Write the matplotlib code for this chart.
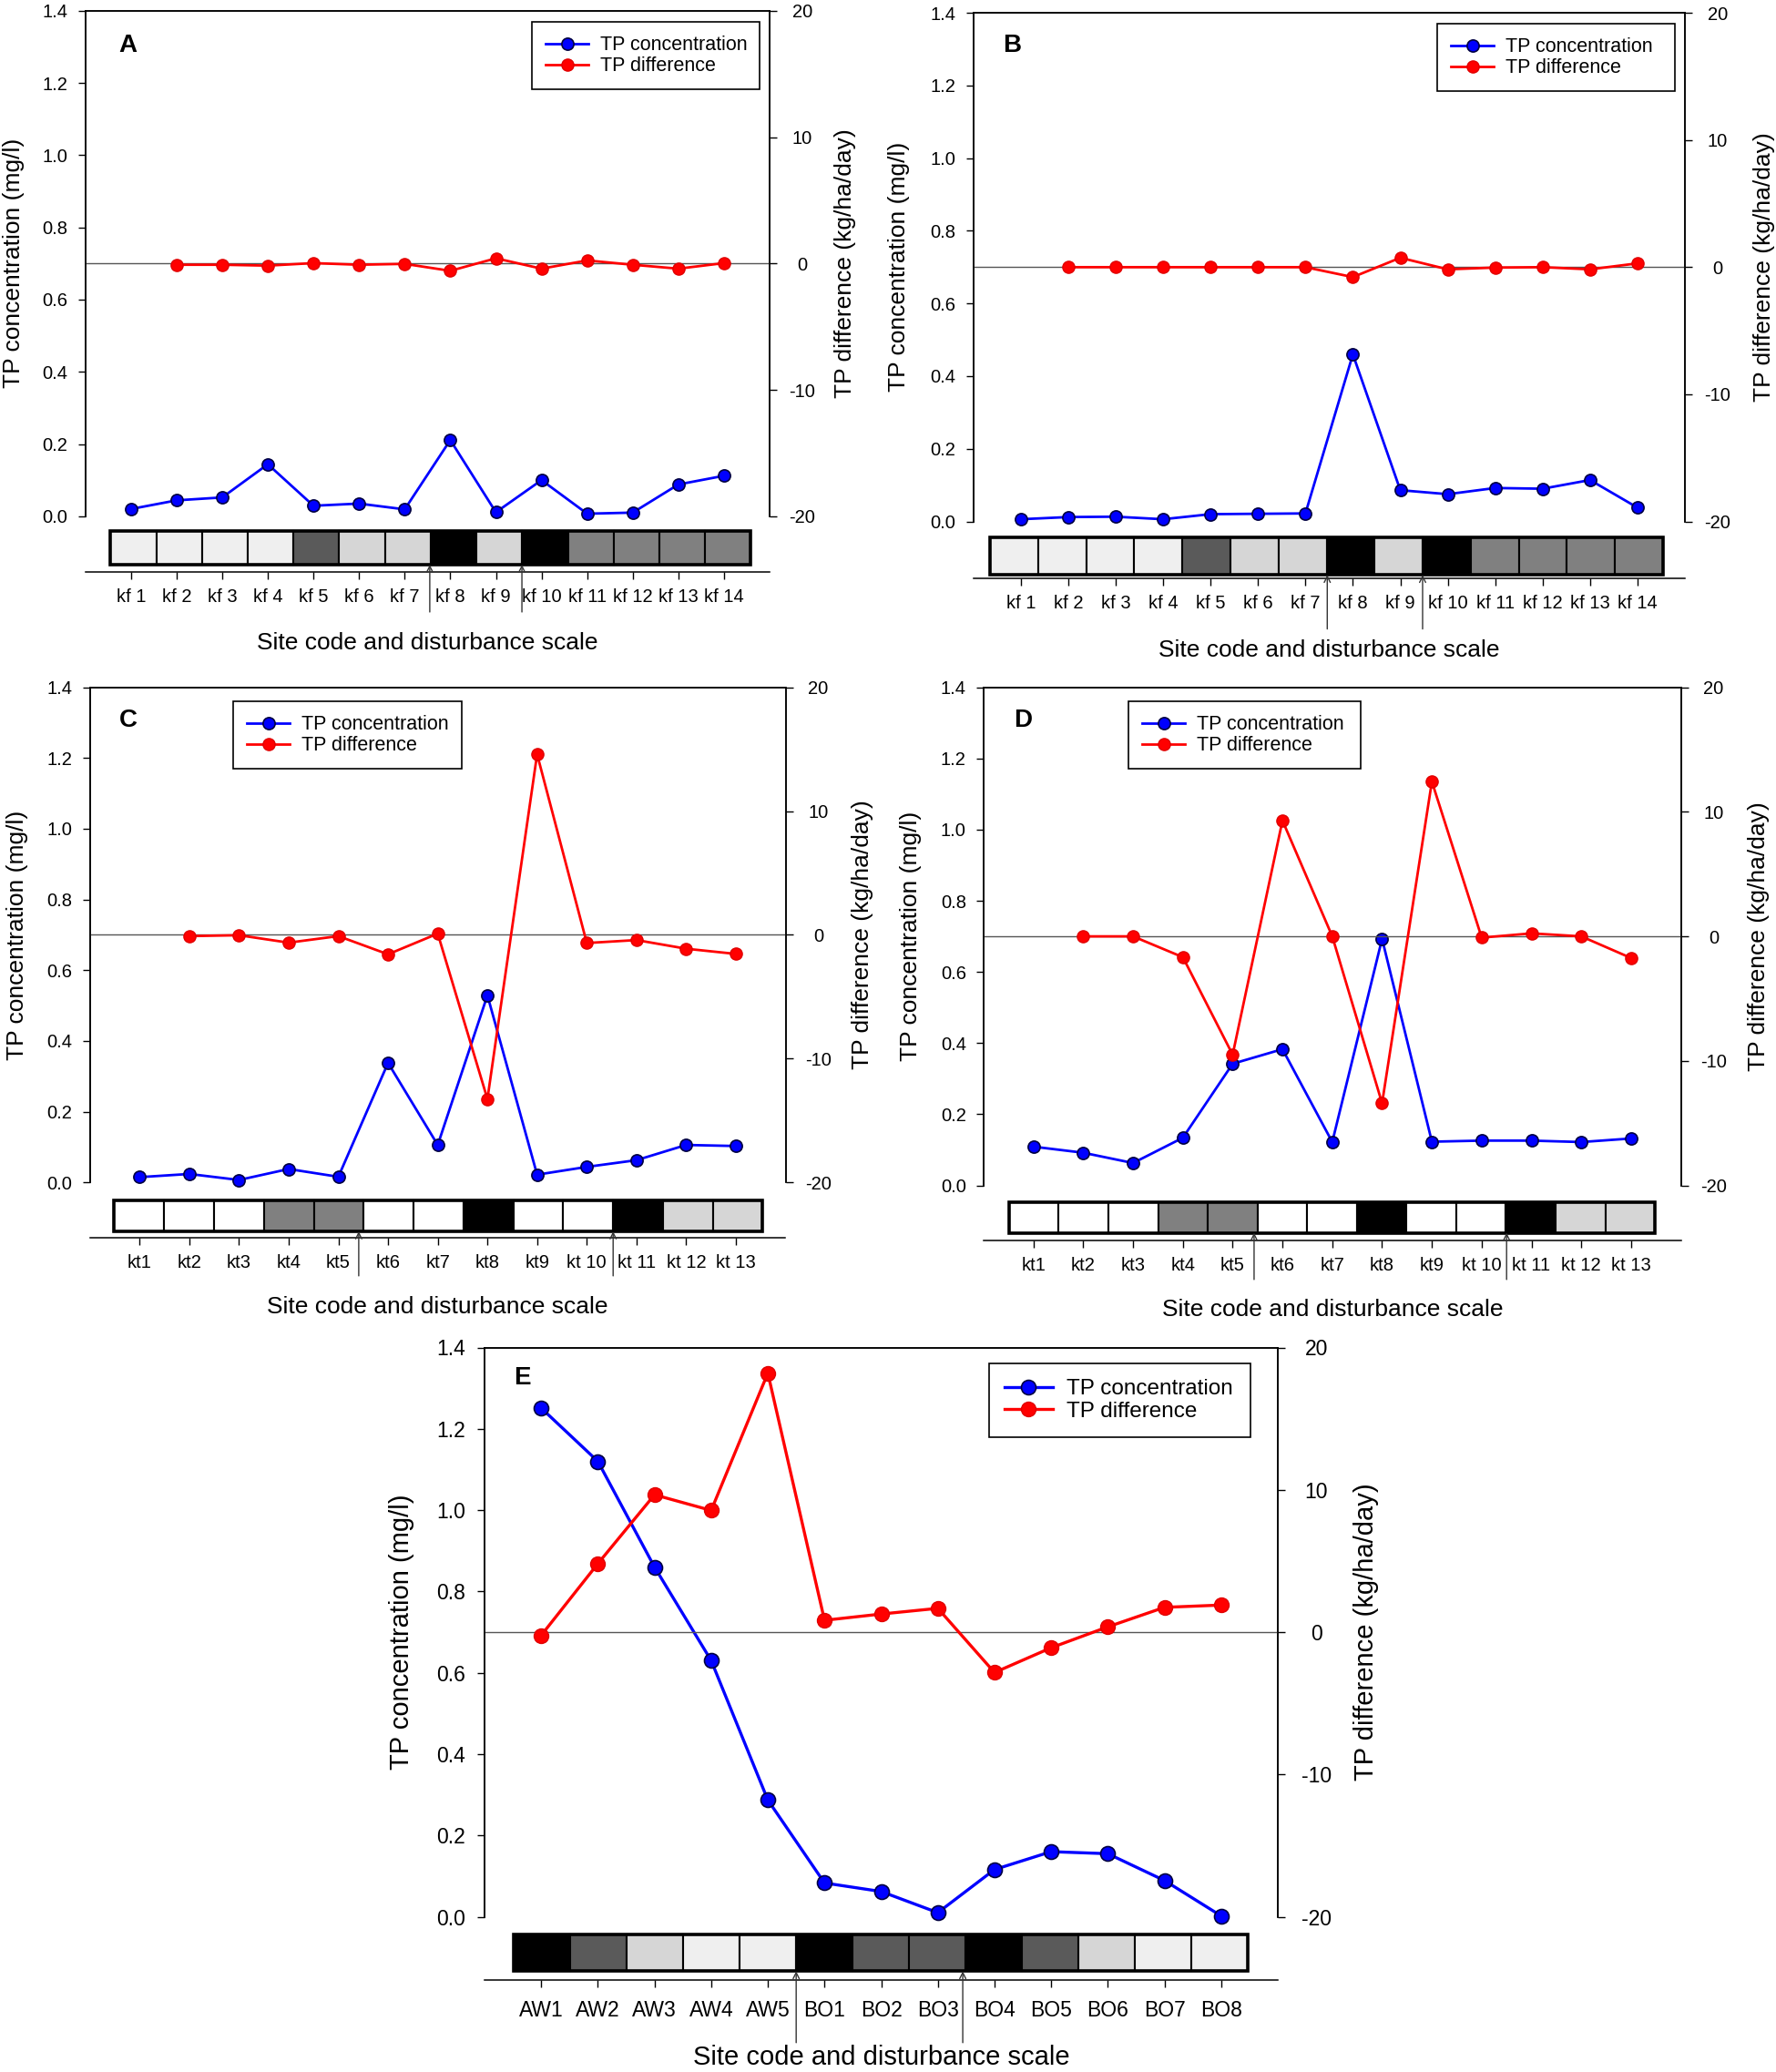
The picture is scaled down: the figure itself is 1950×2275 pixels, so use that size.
import numpy as np
import matplotlib.pyplot as plt
from matplotlib.patches import Rectangle
from matplotlib.lines import Line2D

plt.rcParams['font.family'] = ['Liberation Sans', 'DejaVu Sans']

W, H = 1950, 2275
nan = np.nan

# ---- data ----
sites_kf = ['kf 1', 'kf 2', 'kf 3', 'kf 4', 'kf 5', 'kf 6', 'kf 7',
            'kf 8', 'kf 9', 'kf 10', 'kf 11', 'kf 12', 'kf 13', 'kf 14']
sites_kt = ['kt1', 'kt2', 'kt3', 'kt4', 'kt5', 'kt6', 'kt7',
            'kt8', 'kt9', 'kt 10', 'kt 11', 'kt 12', 'kt 13']
sites_e = ['AW1', 'AW2', 'AW3', 'AW4', 'AW5', 'BO1', 'BO2',
           'BO3', 'BO4', 'BO5', 'BO6', 'BO7', 'BO8']

conc_a = [0.02, 0.044, 0.052, 0.144, 0.029, 0.035, 0.019,
          0.211, 0.011, 0.10, 0.007, 0.01, 0.088, 0.112]
diff_a = [nan, -0.1, -0.1, -0.17, 0.03, -0.1, -0.03,
          -0.58, 0.41, -0.41, 0.24, -0.1, -0.41, 0.03]

conc_b = [0.006, 0.012, 0.013, 0.006, 0.02, 0.021, 0.022,
          0.46, 0.086, 0.075, 0.092, 0.09, 0.114, 0.038]
diff_b = [nan, 0.0, 0.0, 0.0, 0.0, 0.0, 0.0,
          -0.78, 0.74, -0.17, -0.03, 0.0, -0.17, 0.3]

conc_c = [0.015, 0.024, 0.007, 0.038, 0.016, 0.338, 0.106,
          0.529, 0.022, 0.044, 0.063, 0.106, 0.103]
diff_c = [nan, -0.1, -0.03, -0.63, -0.1, -1.57, 0.1,
          -13.26, 14.59, -0.66, -0.42, -1.12, -1.54]

conc_d = [0.109, 0.092, 0.063, 0.134, 0.342, 0.383, 0.122,
          0.693, 0.123, 0.126, 0.126, 0.122, 0.132]
diff_d = [nan, 0.0, 0.0, -1.67, -9.5, 9.3, 0.0,
          -13.4, 12.43, -0.1, 0.24, 0.0, -1.74]

conc_e = [1.251, 1.12, 0.86, 0.63, 0.287, 0.083, 0.062,
          0.01, 0.116, 0.16, 0.155, 0.089, 0.002]
diff_e = [-0.23, 4.81, 9.65, 8.55, 18.2, 0.83, 1.27,
          1.67, -2.84, -1.1, 0.37, 1.74, 1.9]

# disturbance scale (0 = none ... 5 = highest)
scale_kf = [1, 1, 1, 1, 4, 2, 2, 5, 2, 5, 3, 3, 3, 3]
scale_kt = [0, 0, 0, 3, 3, 0, 0, 5, 0, 0, 5, 2, 2]
scale_e = [5, 4, 2, 1, 1, 5, 4, 4, 5, 4, 2, 1, 1]

arrows_a = [7.55, 9.57]
arrows_b = [7.46, 9.47]
arrows_c = [5.41, 10.53]
arrows_d = [5.43, 10.5]
arrows_e = [5.5, 8.44]

shades = {0: '#ffffff', 1: '#efefef', 2: '#d6d6d6', 3: '#808080', 4: '#5a5a5a', 5: '#000000'}

BLUE = '#0000ff'
RED = '#ff0000'


def box(l, r, t, b):
    return [l / W, 1 - b / H, (r - l) / W, (b - t) / H]


def draw_panel(fig, letter, sites, conc, diff, scale, arrows, frame, strip, legbox, letter_xy, big=False):
    l, r, t, zero, base, arrow_len = frame
    n = len(sites)
    x = np.arange(1, n + 1)

    fs_tick = 16.5 if big else 14.5
    fs_lab = 21 if big else 19
    fs_leg = 17.5 if big else 15.5
    ms = 11.5 if big else 9.5
    lw = 2.4 if big else 2.0

    # --- main axes (concentration) ---
    ax = fig.add_axes(box(l, r, t, zero))
    ax.set_xlim(0, n + 1)
    ax.set_ylim(0, 1.4)
    ax.spines['bottom'].set_visible(False)
    ax.set_xticks([])
    yt = np.arange(0, 1.41, 0.2)
    ax.set_yticks(yt, ['%.1f' % v for v in yt])
    ax.tick_params(axis='y', direction='out', length=5.8, width=1,
                   labelsize=fs_tick, pad=9.4 if big else 8)
    for sp in ax.spines.values():
        sp.set_linewidth(1.1)

    ax2 = ax.twinx()
    ax2.set_ylim(-20, 20)
    ax2.spines['bottom'].set_visible(False)
    ax2.set_yticks([-20, -10, 0, 10, 20], ['-20', '-10', '0', '10', '20'], ha='center')
    ax2.tick_params(axis='y', direction='out', length=5.8, width=1,
                    labelsize=fs_tick, pad=24.5 if big else 20)
    for sp in ax2.spines.values():
        sp.set_linewidth(1.1)
    ax2.axhline(0, color='#555555', lw=1.0, zorder=1)

    ax.plot(x, conc, color=BLUE, lw=lw, marker='o', ms=ms, mfc=BLUE,
            mec='#000040', mew=1.2, clip_on=False, zorder=3)
    ax2.plot(x, diff, color=RED, lw=lw, marker='o', ms=ms, mfc=RED,
             mec='#e00000', mew=1, clip_on=False, zorder=3)

    ax.set_ylabel('TP concentration (mg/l)', fontsize=fs_lab)
    ax.yaxis.set_label_coords(-0.105, 0.5)
    ax.yaxis.label.set_va('center')
    ax2.set_ylabel('TP difference (kg/ha/day)', fontsize=fs_lab)
    ax2.yaxis.set_label_coords(1.111, 0.5)
    ax2.yaxis.label.set_va('center')

    handles = [Line2D([], [], color=BLUE, lw=lw, marker='o', ms=ms, mfc=BLUE, mec='#000040', mew=1.2),
               Line2D([], [], color=RED, lw=lw, marker='o', ms=ms, mfc=RED, mec='#e00000')]
    lx0, lx1, ly0, ly1 = legbox
    leg = ax2.legend(handles, ['TP concentration', 'TP difference'],
                     loc='upper left', bbox_to_anchor=box(lx0, lx1, ly0, ly1),
                     bbox_transform=fig.transFigure, mode='expand', borderaxespad=0,
                     fancybox=False, edgecolor='black', framealpha=1, fontsize=fs_leg,
                     handlelength=2.2, handletextpad=0.6, borderpad=0.7,
                     labelspacing=0.1, numpoints=1)
    leg.get_frame().set_linewidth(1.2)

    fig.text(letter_xy[0] / W, 1 - letter_xy[1] / H, letter, fontsize=20,
             fontweight='bold', ha='center', va='center')

    # --- disturbance strip and site axis ---
    axs = fig.add_axes(box(l, r, zero, base))
    axs.patch.set_visible(False)
    axs.set_xlim(0, n + 1)
    axs.set_ylim(0, 1)
    for side in ['left', 'right', 'top']:
        axs.spines[side].set_visible(False)
    axs.spines['bottom'].set_linewidth(1.1)
    axs.set_yticks([])
    axs.set_xticks(x, sites)
    axs.tick_params(axis='x', direction='out', length=5.8, width=1,
                    labelsize=fs_tick, pad=9.7 if big else 7)

    s0, s1, sb, st = strip
    cw = (s1 - s0) / n
    for i, lev in enumerate(scale):
        axs.add_patch(Rectangle((s0 + i * cw, sb), cw, st - sb, facecolor=shades[lev],
                                edgecolor='black', lw=1.5))
    axs.add_patch(Rectangle((s0, sb), s1 - s0, st - sb, fill=False,
                            edgecolor='black', lw=2.6))

    for xa in arrows:
        axs.annotate('', xy=(xa, sb), xytext=(xa, -arrow_len),
                     arrowprops=dict(arrowstyle='->', lw=1, color='#333333',
                                     shrinkA=0, shrinkB=0, mutation_scale=12),
                     annotation_clip=False)

    axs.set_xlabel('Site code and disturbance scale', fontsize=fs_lab)
    axs.xaxis.set_label_coords(0.5, -1.22 if big else -1.26)
    axs.xaxis.label.set_va('center')


def main():
    fig = plt.figure(figsize=(W / 100, H / 100), dpi=100)

    draw_panel(fig, 'A', sites_kf, conc_a, diff_a, scale_kf, arrows_a,
               (93.75, 845, 11.8, 566.8, 628.3, 0.71), (0.55, 14.59, 0.135, 0.73),
               (584, 834, 24, 102), (140.6, 49.6))
    draw_panel(fig, 'B', sites_kf, conc_b, diff_b, scale_kf, arrows_b,
               (1068.75, 1850, 14.2, 572.5, 635, 0.89), (0.35, 14.54, 0.06, 0.726),
               (1578, 1839, 26, 105), (1111, 50))
    draw_panel(fig, 'C', sites_kt, conc_c, diff_c, scale_kt, arrows_c,
               (98.75, 862.5, 754.6, 1298.3, 1359, 0.69), (0.49, 13.54, 0.115, 0.675),
               (256, 507, 770, 848), (140.6, 791))
    draw_panel(fig, 'D', sites_kt, conc_d, diff_d, scale_kt, arrows_d,
               (1080, 1845.6, 754.6, 1301.6, 1362, 0.71), (0.51, 13.48, 0.14, 0.70),
               (1238.75, 1493.75, 770, 848), (1123, 791))
    draw_panel(fig, 'E', sites_e, conc_e, diff_e, scale_e, arrows_e,
               (532, 1403, 1479.5, 2104.5, 2174, 0.99), (0.52, 13.47, 0.14, 0.72),
               (1085.5, 1372.7, 1497.4, 1588), (573.5, 1513), big=True)

    fig.savefig('out.png', dpi=100)


if __name__ == '__main__':
    main()
